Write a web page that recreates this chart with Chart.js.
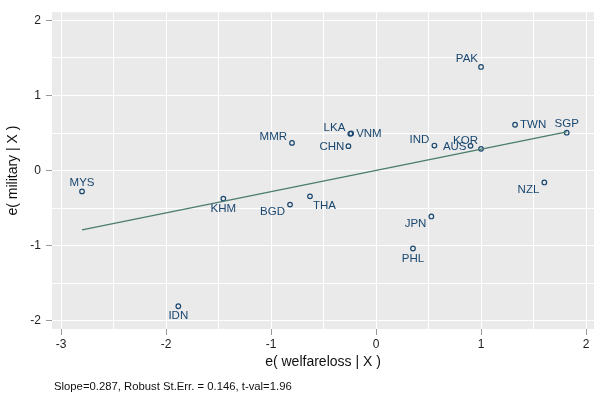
<!DOCTYPE html>
<html>
<head>
<meta charset="utf-8">
<script src="https://cdn.jsdelivr.net/npm/chart.js@4.4.1/dist/chart.umd.min.js"></script>
<style>
	body { margin: 0; background: #fff; }
	#wrap { width: 600px; height: 397px; }
</style>
</head>
<body>
<div id="wrap"><canvas id="AvplotCanvas" width="600" height="397"></canvas></div>
<script>
// countries and residuals
var countries = ['MYS', 'MMR', 'KHM', 'BGD', 'IDN', 'THA', 'LKA', 'VNM', 'CHN', 'IND', 'AUS', 'KOR', 'PAK', 'TWN', 'SGP', 'NZL', 'JPN', 'PHL'];
var welfareloss = [-2.80, -0.80, -1.454, -0.819, -1.883, -0.629, -0.245, -0.237, -0.263, 0.556, 0.90, 1.00, 1.00, 1.324, 1.816, 1.603, 0.527, 0.352];
var military = [-0.277, 0.369, -0.373, -0.453, -1.807, -0.343, 0.490, 0.495, 0.326, 0.334, 0.33, 0.29, 1.381, 0.611, 0.505, -0.158, -0.611, -1.038];
// clock position of each marker label
var labelPos = [12, 10, 6, 8, 6, 4, 10, 3, 9, 10, 9, 11, 11, 3, 12, 8, 8, 6];
// fitted line end points
var fitX = [-2.80, 1.816];
var fitY = [-0.79, 0.515];
var xTicks = [-3, -2, -1, 0, 1, 2];
var yTicks = [-2, -1, 0, 1, 2];
var note = 'Slope=0.287, Robust St.Err. = 0.146, t-val=1.96';

var NAVY = '#1a476f';
var FONT = "'Liberation Sans', Arial, Helvetica, sans-serif";

// offsets for labels, by clock position
var clockOffsets = {
	12: [0, -9, 'center'], 1: [3, -8, 'left'], 2: [5, -5, 'left'], 3: [5, 0, 'left'],
	4: [3, 9, 'left'], 5: [3, 9, 'left'], 6: [0, 10, 'center'], 7: [-3, 9, 'right'],
	8: [-5, 7.5, 'right'], 9: [-4, 1, 'right'], 10: [-5, -6, 'right'], 11: [-3, -8.5, 'right']
};

function withHalves(list) {
	var out = [];
	for (var i = 0; i < list.length; i++) {
		out.push({value: list[i]});
		if (i < list.length - 1) out.push({value: (list[i] + list[i + 1]) / 2});
	}
	return out;
}

var points = [];
for (var i = 0; i < countries.length; i++) {
	points.push({x: welfareloss[i], y: military[i]});
}
var fitLine = [];
for (var i = 0; i < fitX.length; i++) {
	fitLine.push({x: fitX[i], y: fitY[i]});
}

var plotBg = {
	id: 'plotBg',
	beforeDraw: function(chart) {
		var a = chart.chartArea, ctx = chart.ctx;
		ctx.save();
		ctx.fillStyle = '#eaeaea';
		ctx.fillRect(a.left, a.top, a.right - a.left, a.bottom - a.top);
		ctx.restore();
	}
};

var markerLabels = {
	id: 'markerLabels',
	afterDatasetsDraw: function(chart) {
		var ctx = chart.ctx;
		var meta = chart.getDatasetMeta(1);
		ctx.save();
		ctx.font = '11.5px ' + FONT;
		ctx.fillStyle = NAVY;
		ctx.textBaseline = 'middle';
		meta.data.forEach(function(el, i) {
			var o = clockOffsets[labelPos[i]];
			ctx.textAlign = o[2];
			ctx.fillText(countries[i], el.x + o[0], el.y + o[1]);
		});
		ctx.font = '11.3px ' + FONT;
		ctx.fillStyle = '#111';
		ctx.textAlign = 'left';
		ctx.fillText(note, 54, 387);
		ctx.restore();
	}
};

var ctx = document.getElementById('AvplotCanvas').getContext('2d');
window.avplot = new Chart(ctx, {
	type: 'scatter',
	data: {
		datasets: [{
			type: 'line',
			data: fitLine,
			borderColor: '#4a7c6f',
			borderWidth: 1.3,
			pointRadius: 0,
			fill: false
		}, {
			data: points,
			pointStyle: 'circle',
			pointRadius: 2.3,
			borderWidth: 1.2,
			borderColor: NAVY,
			backgroundColor: 'rgba(0,0,0,0)'
		}]
	},
	options: {
		responsive: false,
		animation: false,
		devicePixelRatio: 1,
		layout: {padding: {top: 9, right: 6, bottom: 20, left: 0}},
		plugins: {legend: {display: false}, tooltip: {enabled: false}},
		scales: {
			x: {
				type: 'linear',
				min: -3.086,
				max: 2.076,
				afterBuildTicks: function(scale) { scale.ticks = withHalves(xTicks); },
				afterFit: function(scale) { scale.height = 48; },
				border: {display: false},
				grid: {
					color: '#ffffff',
					lineWidth: 1,
					tickLength: 6,
					tickColor: function(c) { return c.tick && c.tick.value % 1 === 0 ? '#999999' : 'rgba(0,0,0,0)'; }
				},
				ticks: {
					autoSkip: false,
					maxRotation: 0,
					padding: 2,
					color: '#222',
					font: {family: FONT, size: 12},
					callback: function(v) { return v % 1 === 0 ? String(v) : ''; }
				},
				title: {
					display: true,
					text: 'e( welfareloss | X )',
					color: '#111',
					font: {family: FONT, size: 14},
					padding: {top: 0, bottom: 6}
				}
			},
			y: {
				type: 'linear',
				min: -2.11,
				max: 2.11,
				afterBuildTicks: function(scale) { scale.ticks = withHalves(yTicks); },
				afterFit: function(scale) { scale.width = 52; },
				border: {display: false},
				grid: {
					color: '#ffffff',
					lineWidth: 1,
					tickLength: 6,
					tickColor: function(c) { return c.tick && c.tick.value % 1 === 0 ? '#999999' : 'rgba(0,0,0,0)'; }
				},
				ticks: {
					autoSkip: false,
					padding: 5,
					color: '#222',
					font: {family: FONT, size: 12},
					callback: function(v) { return v % 1 === 0 ? String(v) : ''; }
				},
				title: {
					display: true,
					text: 'e( military | X )',
					color: '#111',
					font: {family: FONT, size: 14},
					padding: {top: 5, bottom: 0}
				}
			}
		}
	},
	plugins: [plotBg, markerLabels]
});
</script>
</body>
</html>
